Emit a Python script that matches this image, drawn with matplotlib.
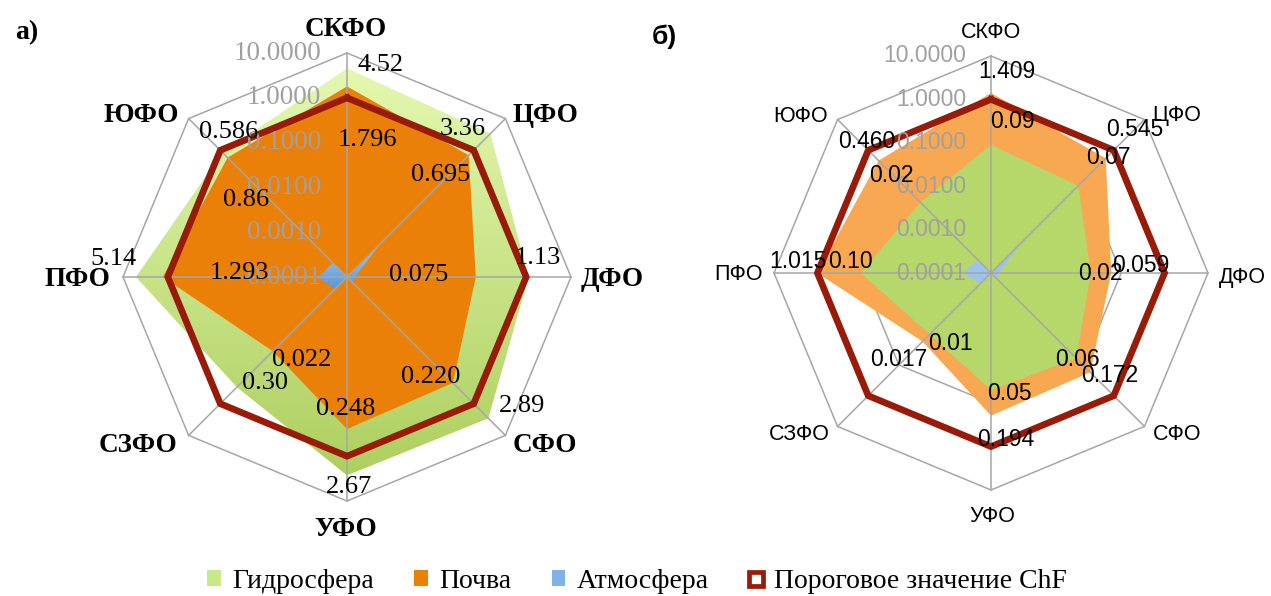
import numpy as np
import matplotlib
matplotlib.use("Agg")
import matplotlib.pyplot as plt
from matplotlib.patches import Polygon, Patch
from matplotlib.lines import Line2D
from matplotlib.colors import LinearSegmentedColormap

# ---------------------------------------------------------------- data
regions = ["СКФО", "ЦФО", "ДФО", "СФО", "УФО", "СЗФО", "ПФО", "ЮФО"]

# panel а)
hydro_a = [4.52, 3.36, 1.13, 2.89, 2.67, 0.30, 5.14, 0.86]
soil_a = [1.796, 0.695, 0.075, 0.220, 0.248, 0.022, 1.293, 0.586]
atmo_a = [0.0001, 0.0011, 0.00015, 0.00016, 0.0001, 0.00024, 0.00045, 0.00028]
limit_a = [1, 1, 1, 1, 1, 1, 1, 1]

# panel б)
hydro_b = [0.09, 0.07, 0.02, 0.06, 0.05, 0.01, 0.10, 0.02]
soil_b = [1.409, 0.545, 0.059, 0.172, 0.194, 0.017, 1.015, 0.460]
atmo_b = [0.0001, 0.0011, 0.00015, 0.00016, 0.0001, 0.00022, 0.00045, 0.00027]
limit_b = [1, 1, 1, 1, 1, 1, 1, 1]

tick_values = [0.0001, 0.001, 0.01, 0.1, 1, 10]
tick_labels = ["0.0001", "0.0010", "0.0100", "0.1000", "1.0000", "10.0000"]

legend_labels = ["Гидросфера", "Почва", "Атмосфера", "Пороговое значение ChF"]

# ---------------------------------------------------------------- layout
W, H, DPI = 1271, 596, 100
RMIN = np.log10(tick_values[0])
NDEC = np.log10(tick_values[-1]) - RMIN

GRID = "#A6A6A6"
RED = "#991A07"

# label offsets in pixels from the chart centre (x right, y down)
cat_off_a = [(-1, -247), (198, -162), (265, 2), (198, 168), (-1, 253),
             (-209, 168), (-270, 3), (-206, -162)]
hyd_off_a = [(34, -212), (116, -148), (191, -19), (175, 129), (2, 210),
             (-82, 106), (-234, -18), (-101, -77)]
soil_off_a = [(20, -137), (94, -102), (72, -2), (84, 100), (-1, 132),
              (-45, 83), (-108, -4), (-118, -145)]

cat_off_b = [(0, -240), (186, -158), (251, 4), (186, 162), (1, 244),
             (-192, 162), (-252, 2), (-190, -157)]
hyd_off_b = [(21, -152), (117, -116), (109, 1), (86, 86), (18, 121),
             (-41, 71), (-141, -11), (-100, -97)]
soil_off_b = [(16, -201), (144, -143), (150, -8), (119, 102), (15, 166),
              (-92, 87), (-193, -11), (-124, -132)]

fig = plt.figure(figsize=(W / DPI, H / DPI), dpi=DPI)


def make_axes(cx, cy, radius, x0, x1):
    scale = radius / NDEC
    ax = fig.add_axes([x0 / W, 0, (x1 - x0) / W, 1])
    ax.set_xlim((x0 - cx) / scale, (x1 - cx) / scale)
    ax.set_ylim((cy - H) / scale, cy / scale)
    ax.set_aspect("auto")
    ax.axis("off")
    return ax


def to_xy(values):
    r = np.clip(np.log10(np.asarray(values, float)) - RMIN, 0, NDEC)
    th = 2 * np.pi * np.arange(len(values)) / len(values)
    return r * np.sin(th), r * np.cos(th)


def fill_series(ax, values, color=None, grad=None, z=2):
    xs, ys = to_xy(values)
    if grad is None:
        ax.add_patch(Polygon(np.column_stack([xs, ys]), closed=True,
                             facecolor=color, edgecolor="none", zorder=z))
        return
    poly = Polygon(np.column_stack([xs, ys]), closed=True,
                   facecolor="none", edgecolor="none", zorder=z)
    ax.add_patch(poly)
    cmap = LinearSegmentedColormap.from_list("fill", grad)
    im = ax.imshow(np.linspace(0, 1, 256)[:, None], cmap=cmap, origin="upper",
                   extent=[xs.min(), xs.max(), ys.min(), ys.max()],
                   aspect="auto", zorder=z, interpolation="bilinear")
    im.set_clip_path(poly)


def draw_grid(ax, n):
    th = 2 * np.pi * np.arange(n + 1) / n
    for v in tick_values[1:]:
        r = np.log10(v) - RMIN
        ax.plot(r * np.sin(th), r * np.cos(th), color=GRID, lw=1.1, zorder=1)
    for t in th[:-1]:
        ax.plot([0, NDEC * np.sin(t)], [0, NDEC * np.cos(t)],
                color=GRID, lw=1.1, zorder=4)


def limit_line(ax, values):
    xs, ys = to_xy(values)
    ax.plot(np.append(xs, xs[0]), np.append(ys, ys[0]), color=RED, lw=4.8,
            solid_joinstyle="miter", zorder=5)


def put(ax, text, off, **kw):
    ax.annotate(text, xy=(0, 0), xytext=(off[0], -off[1]),
                textcoords="offset pixels", ha="center", va="center",
                zorder=7, annotation_clip=False, **kw)


def radial_ticks(ax, radius, dx, **kw):
    scale = radius / NDEC
    for v, lab in zip(tick_values, tick_labels):
        r = (np.log10(v) - RMIN) * scale
        ax.annotate(lab, xy=(0, 0), xytext=(dx, r), textcoords="offset pixels",
                    ha="right", va="center", color="#A0A0A0", zorder=6,
                    annotation_clip=False, **kw)


# ---------------------------------------------------------------- panel а)
ax_a = make_axes(347, 277, 224, 0, 660)
draw_grid(ax_a, len(regions))
fill_series(ax_a, hydro_a, grad=["#E4F8B0", "#AECF60"], z=2)
fill_series(ax_a, soil_a, color="#EA8008", z=2.5)
fill_series(ax_a, atmo_a, grad=["#AACDF5", "#5797D8"], z=3)
limit_line(ax_a, limit_a)

serif = dict(family="Liberation Serif")
radial_ticks(ax_a, 224, -26, fontsize=19.5, **serif)
for name, off in zip(regions, cat_off_a):
    put(ax_a, name, off, fontsize=19.5, fontweight="bold", **serif)
for v, off in zip(hydro_a, hyd_off_a):
    put(ax_a, f"{v:.2f}", off, fontsize=19, **serif)
for v, off in zip(soil_a, soil_off_a):
    put(ax_a, f"{v:.3f}", off, fontsize=19, **serif)

# ---------------------------------------------------------------- panel б)
ax_b = make_axes(991, 273, 217, 640, 1271)
draw_grid(ax_b, len(regions))
fill_series(ax_b, soil_b, color="#F9A852", z=2)
fill_series(ax_b, hydro_b, color="#B6D76A", z=2.5)
fill_series(ax_b, atmo_b, color="#9DC3EC", z=3)
limit_line(ax_b, limit_b)

sans = dict(family="Liberation Sans")
radial_ticks(ax_b, 217, -25, fontsize=16.5, **sans)
for name, off in zip(regions, cat_off_b):
    put(ax_b, name, off, fontsize=15.5, **sans)
for v, off in zip(hydro_b, hyd_off_b):
    put(ax_b, f"{v:.2f}", off, fontsize=16.5, **sans)
for v, off in zip(soil_b, soil_off_b):
    put(ax_b, f"{v:.3f}", off, fontsize=16.5, **sans)

# panel letters
fig.text(27 / W, 1 - 33 / H, "а)", fontsize=20, fontweight="bold",
         ha="center", va="center", **serif)
fig.text(664 / W, 1 - 37 / H, "б)", fontsize=19, fontweight="bold",
         ha="center", va="center", **sans)

# ---------------------------------------------------------------- legend
handles = [
    Patch(facecolor="#C9E88A", edgecolor="none"),
    Patch(facecolor="#EA8008", edgecolor="none"),
    Patch(facecolor="#7FB2E8", edgecolor="none"),
    Line2D([], [], linestyle="none", marker="s", markersize=9.5,
           markerfacecolor="white", markeredgecolor=RED, markeredgewidth=3.4),
]
fig.legend(handles, legend_labels, loc="center", ncol=4,
           bbox_to_anchor=(637 / W, 1 - 581 / H), frameon=False,
           prop=dict(family="Liberation Serif", size=20),
           handlelength=0.5, handleheight=0.5, handletextpad=0.4,
           columnspacing=1.45, borderpad=0)

fig.savefig("out.png", dpi=DPI, facecolor="white")
